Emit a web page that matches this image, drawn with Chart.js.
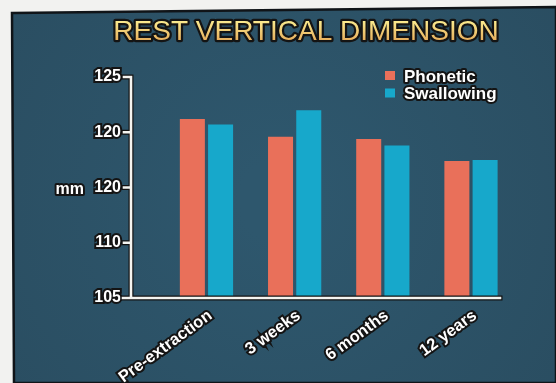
<!DOCTYPE html>
<html>
<head>
<meta charset="utf-8">
<title>Rest Vertical Dimension</title>
<script src="https://cdn.jsdelivr.net/npm/chart.js@4"></script>
<style>
  html, body { margin: 0; padding: 0; background: #f2f2f0; }
  #wrap { width: 556px; height: 383px; position: relative; }
  canvas { display: block; }
</style>
</head>
<body>
<div id="wrap"><canvas id="chart" width="556" height="383"></canvas></div>
<script>
// Measurement periods and mean rest vertical dimension (mm) per method
const categories = ['Pre-extraction', '3 weeks', '6 months', '12 years'];
const phonetic = [121.2, 119.6, 119.4, 117.4];
const swallowing = [120.7, 122.0, 118.8, 117.5];
const seriesNames = ['Phonetic', 'Swallowing'];

// Y axis tick positions and the text printed at each of them
const yTickValues = [105, 110, 115, 120, 125];
const yTickLabels = ['105', '110', '120', '120', '125'];

const titleText = 'REST VERTICAL DIMENSION';
const unitText = 'mm';

const PHONETIC_COLOR = '#e9705a';
const SWALLOW_COLOR = '#17a8cb';
const FONT = '"Liberation Sans", Arial, Helvetica, sans-serif';

function outlinedText(ctx, text, x, y, fill, strokeW, maxW) {
  ctx.lineJoin = 'round';
  ctx.lineWidth = strokeW;
  ctx.strokeStyle = '#141414';
  if (maxW) ctx.strokeText(text, x, y, maxW); else ctx.strokeText(text, x, y);
  ctx.fillStyle = fill;
  if (maxW) ctx.fillText(text, x, y, maxW); else ctx.fillText(text, x, y);
}

// Slide-style backdrop, axes, title, legend and unit label
const decor = {
  id: 'decor',
  beforeDraw(chart) {
    const ctx = chart.ctx;
    ctx.save();
    ctx.fillStyle = '#f2f2f0';
    ctx.fillRect(0, 0, chart.width, chart.height);
    // slightly skewed dark panel
    ctx.beginPath();
    ctx.moveTo(12, 13);
    ctx.lineTo(556, 7);
    ctx.lineTo(556, 383);
    ctx.lineTo(14, 383);
    ctx.closePath();
    const g = ctx.createRadialGradient(280, 200, 40, 280, 200, 420);
    g.addColorStop(0, '#2e576d');
    g.addColorStop(1, '#294b5e');
    ctx.fillStyle = g;
    ctx.fill();
    ctx.lineWidth = 2.5;
    ctx.strokeStyle = '#101418';
    ctx.stroke();
    ctx.restore();
  },
  afterDatasetsDraw(chart) {
    const ctx = chart.ctx;
    const ys = chart.scales.y;
    const area = chart.chartArea;
    const axisX = area.left;
    const yTop = ys.getPixelForValue(125);
    const yBot = ys.getPixelForValue(105);
    ctx.save();
    ctx.lineCap = 'square';
    // axis lines: dark outline under a white core
    const pathAxes = () => {
      ctx.beginPath();
      ctx.moveTo(axisX, yTop);
      ctx.lineTo(axisX, yBot);
      ctx.moveTo(axisX - 8, yBot);
      ctx.lineTo(area.right, yBot);
      yTickValues.forEach(v => {
        const p = ys.getPixelForValue(v);
        ctx.moveTo(axisX - 7, p);
        ctx.lineTo(axisX, p);
      });
    };
    pathAxes();
    ctx.strokeStyle = '#121212';
    ctx.lineWidth = 5;
    ctx.stroke();
    pathAxes();
    ctx.strokeStyle = '#f4f4f0';
    ctx.lineWidth = 2.6;
    ctx.stroke();

    // title
    ctx.font = '28px ' + FONT;
    ctx.textAlign = 'center';
    ctx.textBaseline = 'alphabetic';
    const tg = ctx.createLinearGradient(0, 21, 0, 41);
    tg.addColorStop(0, '#fbeb8e');
    tg.addColorStop(1, '#e7ae5c');
    outlinedText(ctx, titleText, 306, 40, tg, 4.5, 388);

    // legend
    const colors = [PHONETIC_COLOR, SWALLOW_COLOR];
    ctx.font = 'bold 17px ' + FONT;
    ctx.textAlign = 'left';
    seriesNames.forEach((name, i) => {
      const top = 71 + i * 17.5;
      ctx.fillStyle = colors[i];
      ctx.fillRect(385, top, 10, 9);
      outlinedText(ctx, name, 404, top + 10.5, '#ffffff', 4);
    });

    // unit label beside the middle tick
    ctx.font = 'bold 16px ' + FONT;
    ctx.textAlign = 'right';
    ctx.textBaseline = 'middle';
    outlinedText(ctx, unitText, 84, ys.getPixelForValue(115) + 2, '#ffffff', 4);
    ctx.restore();
  }
};

const toPoints = arr => arr.map((v, i) => ({ x: i, y: v }));

new Chart(document.getElementById('chart'), {
  type: 'bar',
  data: {
    datasets: [
      { label: seriesNames[0], data: toPoints(phonetic), backgroundColor: PHONETIC_COLOR, borderWidth: 0 },
      { label: seriesNames[1], data: toPoints(swallowing), backgroundColor: SWALLOW_COLOR, borderWidth: 0 }
    ]
  },
  options: {
    responsive: false,
    animation: false,
    events: [],
    categoryPercentage: 0.64,
    barPercentage: 0.887,
    layout: { padding: { top: 77, right: 56, left: 0, bottom: 0 } },
    plugins: {
      legend: { display: false },
      title: { display: false },
      tooltip: { enabled: false }
    },
    scales: {
      x: {
        type: 'linear',
        offset: false,
        bounds: 'data',
        min: -0.856,
        max: 3.329,
        afterBuildTicks: s => { s.ticks = categories.map((c, i) => ({ value: i })); },
        afterFit: s => { s.height = 85; },
        grid: { display: false, drawTicks: true, tickLength: 3 },
        border: { display: false },
        ticks: {
          autoSkip: false,
          minRotation: 36,
          maxRotation: 36,
          padding: 5,
          labelOffset: 4,
          color: '#ffffff',
          textStrokeColor: '#141414',
          textStrokeWidth: 4,
          font: { family: FONT, size: 16.5, weight: 'bold' },
          callback: v => categories[v]
        }
      },
      y: {
        min: 105,
        max: 125,
        afterBuildTicks: s => { s.ticks = yTickValues.map(v => ({ value: v })); },
        afterFit: s => { s.width = 131; },
        grid: { display: false, drawTicks: true, tickLength: 8 },
        border: { display: false },
        ticks: {
          padding: 2,
          color: '#ffffff',
          textStrokeColor: '#141414',
          textStrokeWidth: 4,
          font: { family: FONT, size: 16, weight: 'bold' },
          callback: v => yTickLabels[yTickValues.indexOf(v)]
        }
      }
    }
  },
  plugins: [decor]
});
</script>
</body>
</html>
